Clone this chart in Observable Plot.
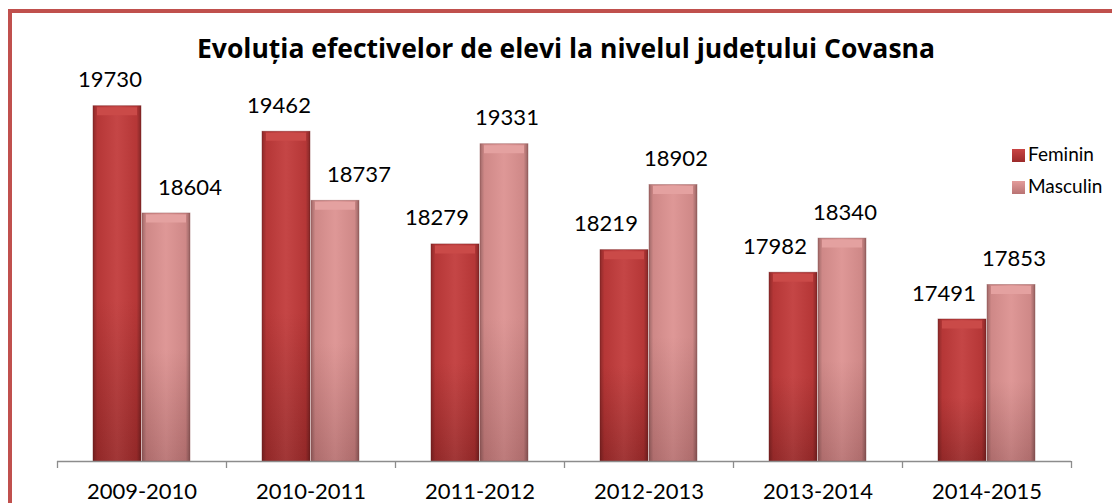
<!DOCTYPE html>
<html><head><meta charset="utf-8">
<script src="https://cdn.jsdelivr.net/npm/d3@7"></script>
<script src="https://cdn.jsdelivr.net/npm/@observablehq/plot@0.6"></script>
<style>
html,body{margin:0;padding:0;background:#fff}
body{width:1112px;height:503px;overflow:hidden;position:relative;font-family:Lato,"Open Sans",sans-serif;color:#000}
#frame{position:absolute;left:8px;top:9px;width:1300px;height:700px;border:4px solid #c0504d;box-sizing:border-box}
#chart{position:absolute;left:0;top:0}
#title{position:absolute;left:0;width:1132px;top:32px;text-align:center;font-family:"Open Sans",sans-serif;font-weight:bold;font-size:26.5px;line-height:32px}
#legend{position:absolute;left:1012px;top:138px;font-size:19px;line-height:32px}
#legend .sw{display:inline-block;width:13px;height:13px;margin-right:3px;vertical-align:-1px}
</style></head>
<body>
<div id="frame"></div>
<div id="chart"></div>
<div id="title">Evoluția efectivelor de elevi la nivelul județului Covasna</div>
<div id="legend"></div>
<script>
const years = ["2009-2010","2010-2011","2011-2012","2012-2013","2013-2014","2014-2015"];
const series = ["Feminin","Masculin"];
const feminin = [19730,19462,18279,18219,17982,17491];
const masculin = [18604,18737,19331,18902,18340,17853];

const rows = years.flatMap((year,i)=>[
  {year, series:"Feminin", value:feminin[i], other:masculin[i]},
  {year, series:"Masculin", value:masculin[i], other:feminin[i]}
]);
const fem = rows.filter(d=>d.series==="Feminin");
const mas = rows.filter(d=>d.series==="Masculin");
const taller = d=>d.value>=d.other;
const shorter = d=>d.value<d.other;

const base = 16000;
const F = {insetLeft:36, insetRight:85};
const M = {insetLeft:85, insetRight:36};
const lab = {x:"year", y:"value", text:d=>String(d.value), dy:-26, fontSize:22, fill:"#000"};
const axisStyle = {stroke:"#8c8c8c", strokeWidth:1.3};

const chart = Plot.plot({
  width:1112, height:503,
  marginLeft:57, marginRight:41, marginTop:80, marginBottom:42,
  style:{fontFamily:"Lato, 'Open Sans', sans-serif", background:"transparent", overflow:"visible"},
  x:{type:"band", domain:years, padding:0, axis:null},
  y:{domain:[base,20000], axis:null},
  marks:[
    Plot.barY(fem,{x:"year", y1:base, y2:"value", ...F, fill:"url(#gF)"}),
    Plot.barY(mas,{x:"year", y1:base, y2:"value", ...M, fill:"url(#gM)"}),
    Plot.barY(fem,{x:"year", y1:base, y2:"value", ...F, fill:"url(#gShade)", stroke:"#6e1a1a", strokeOpacity:0.5, strokeWidth:0.8}),
    Plot.barY(mas,{x:"year", y1:base, y2:"value", ...M, fill:"url(#gShade)", stroke:"#8a4a4a", strokeOpacity:0.5, strokeWidth:0.8}),
    Plot.tickY(fem,{x:"year", y:"value", insetLeft:F.insetLeft+4, insetRight:F.insetRight+4, stroke:"#ca4a48", strokeWidth:8, dy:5}),
    Plot.tickY(mas,{x:"year", y:"value", insetLeft:M.insetLeft+4, insetRight:M.insetRight+4, stroke:"#e4a1a0", strokeWidth:8, dy:5}),
    Plot.ruleY([base], axisStyle),
    Plot.ruleX(years,{x:d=>d, y1:base, y2:base, insetBottom:-7, dx:-84.5, ...axisStyle}),
    Plot.ruleX(years.slice(-1),{x:d=>d, y1:base, y2:base, insetBottom:-7, dx:84.5, ...axisStyle}),
    Plot.text(fem,{...lab, filter:taller, dx:-32}),
    Plot.text(fem,{...lab, filter:shorter, dx:-43}),
    Plot.text(mas,{...lab, filter:shorter, dx:48}),
    Plot.text(mas,{...lab, filter:taller, dx:27}),
    Plot.text(years,{x:d=>d, y:base, text:d=>d, dy:30, fontSize:22, fill:"#000"})
  ]
});

const svg = d3.select(chart);
const defs = svg.insert("defs",":first-child");
function vgrad(id, top, bottom){
  const g = defs.append("linearGradient").attr("id",id).attr("x1",0).attr("y1",0).attr("x2",0).attr("y2",1);
  g.append("stop").attr("offset","0").attr("stop-color",top);
  g.append("stop").attr("offset","0.55").attr("stop-color",top);
  g.append("stop").attr("offset","1").attr("stop-color",bottom);
}
vgrad("gF","#c13a3a","#9b2a2a");
vgrad("gM","#dc9190","#b97373");
const sh = defs.append("linearGradient").attr("id","gShade").attr("x1",0).attr("y1",0).attr("x2",1).attr("y2",0);
[[0,"#000",0.28],[0.09,"#000",0.06],[0.5,"#fff",0.06],[0.91,"#000",0.06],[1,"#000",0.32]].forEach(([o,c,a])=>{
  sh.append("stop").attr("offset",o).attr("stop-color",c).attr("stop-opacity",a);
});
document.getElementById("chart").appendChild(chart);

const lg = document.getElementById("legend");
const swatch = {Feminin:"linear-gradient(#c94444,#9b2a2a)", Masculin:"linear-gradient(#e39c9b,#b97373)"};
series.forEach(s=>{
  const row = document.createElement("div");
  row.innerHTML = `<span class="sw" style="background:${swatch[s]}"></span>${s}`;
  lg.appendChild(row);
});
</script>
</body></html>
